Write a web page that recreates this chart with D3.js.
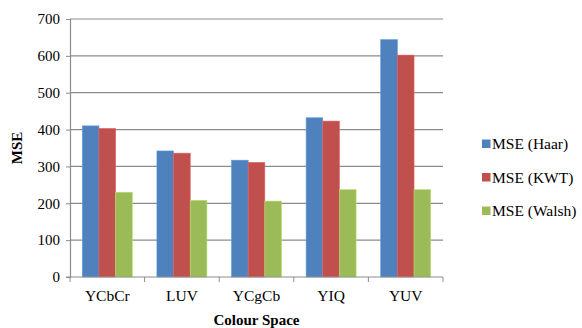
<!DOCTYPE html>
<html>
<head>
<meta charset="utf-8">
<script src="https://cdn.jsdelivr.net/npm/d3@7"></script>
<style>
  body { margin: 0; background: #fff; }
  svg text { font-family: "Liberation Serif", "Times New Roman", serif; fill: #000; }
</style>
</head>
<body>
<div id="chart"></div>
<script>
// MSE per colour space, three transforms
const categories = ["YCbCr", "LUV", "YCgCb", "YIQ", "YUV"];
const seriesNames = ["MSE (Haar)", "MSE (KWT)", "MSE (Walsh)"];
const haar  = [410, 342, 317, 432, 644];
const kwt   = [403, 336, 311, 423, 602];
const walsh = [230, 208, 206, 237, 237];
const yTicks = [0, 100, 200, 300, 400, 500, 600, 700];

const colors = ["#4F81BD", "#C0504D", "#9BBB59"];
const serif = "'Liberation Serif', 'Times New Roman', serif";

(() => {
  const width = 582, height = 328;
  const margin = { top: 19, right: 139, bottom: 51, left: 70 };
  const innerWidth = width - margin.left - margin.right;
  const innerHeight = height - margin.top - margin.bottom;

  const svg = d3.select("#chart").append("svg")
    .attr("width", width)
    .attr("height", height)
    .attr("font-family", serif);

  const g = svg.append("g")
    .attr("transform", `translate(${margin.left},${margin.top})`);

  const x0 = d3.scaleBand()
    .domain(categories)
    .range([0, innerWidth])
    .paddingInner(0.33)
    .paddingOuter(0.165);

  const x1 = d3.scaleBand()
    .domain(seriesNames)
    .range([0, x0.bandwidth()]);

  const y = d3.scaleLinear()
    .domain([0, 700])
    .range([innerHeight, 0]);

  // gridlines
  g.append("g")
    .selectAll("line")
    .data(yTicks.filter(d => d > 0))
    .enter()
    .append("line")
    .attr("x1", 0)
    .attr("x2", innerWidth)
    .attr("y1", d => y(d))
    .attr("y2", d => y(d))
    .attr("stroke", "#8c8c8c")
    .attr("stroke-width", 1.2);

  // y axis
  const yAxis = g.append("g")
    .call(d3.axisLeft(y).tickValues(yTicks).tickSize(4).tickPadding(6))
    .attr("font-family", serif)
    .attr("font-size", 15);
  yAxis.select(".domain").attr("stroke", "#8c8c8c").attr("stroke-width", 1.2);
  yAxis.selectAll(".tick line").attr("stroke", "#8c8c8c");
  yAxis.selectAll("text")
    .style("font-family", serif)
    .style("font-size", "15px")
    .attr("fill", "#000");

  // bars
  const rows = categories.map((c, i) => ({
    cat: c,
    vals: [haar[i], kwt[i], walsh[i]]
  }));

  const groups = g.selectAll(".grp")
    .data(rows)
    .enter()
    .append("g")
    .attr("transform", d => `translate(${x0(d.cat)},0)`);

  groups.selectAll("rect")
    .data(d => d.vals.map((v, j) => ({ name: seriesNames[j], v, j })))
    .enter()
    .append("rect")
    .attr("x", d => x1(d.name))
    .attr("y", d => y(d.v))
    .attr("width", x1.bandwidth())
    .attr("height", d => innerHeight - y(d.v))
    .attr("fill", d => colors[d.j])
    .attr("stroke", d => d3.color(colors[d.j]).brighter(0.5))
    .attr("stroke-width", 0.6);

  // x axis (ticks at category boundaries)
  const xAxisG = g.append("g")
    .attr("transform", `translate(0,${innerHeight})`);
  xAxisG.append("line")
    .attr("x1", -4).attr("x2", innerWidth)
    .attr("stroke", "#8c8c8c").attr("stroke-width", 1.2);
  const step = innerWidth / categories.length;
  xAxisG.selectAll(".xt")
    .data(d3.range(categories.length + 1))
    .enter()
    .append("line")
    .attr("x1", d => d * step).attr("x2", d => d * step)
    .attr("y1", 0).attr("y2", 5)
    .attr("stroke", "#8c8c8c");
  xAxisG.selectAll(".xl")
    .data(categories)
    .enter()
    .append("text")
    .attr("x", d => x0(d) + x0.bandwidth() / 2)
    .attr("y", 24)
    .attr("text-anchor", "middle")
    .style("font-family", serif)
    .style("font-size", "15.5px")
    .text(d => d);

  // axis titles
  svg.append("text")
    .attr("x", margin.left + innerWidth / 2)
    .attr("y", 325)
    .attr("text-anchor", "middle")
    .style("font-family", serif)
    .style("font-size", "15px")
    .style("font-weight", "bold")
    .text("Colour Space");

  svg.append("text")
    .attr("transform", "translate(22,148) rotate(-90)")
    .attr("text-anchor", "middle")
    .style("font-family", serif)
    .style("font-size", "15px")
    .style("font-weight", "bold")
    .text("MSE");

  // legend
  const legend = svg.append("g")
    .attr("transform", "translate(482,0)");
  const lg = legend.selectAll(".lg")
    .data(seriesNames)
    .enter()
    .append("g")
    .attr("transform", (d, i) => `translate(0,${143.5 + i * 33.5})`);
  lg.append("rect")
    .attr("x", 0).attr("y", -4)
    .attr("width", 8.5).attr("height", 8.5)
    .attr("fill", (d, i) => colors[i]);
  lg.append("text")
    .attr("x", 10)
    .attr("y", 5.5)
    .style("font-family", serif)
    .style("font-size", "15.5px")
    .text(d => d);
})();
</script>
</body>
</html>
